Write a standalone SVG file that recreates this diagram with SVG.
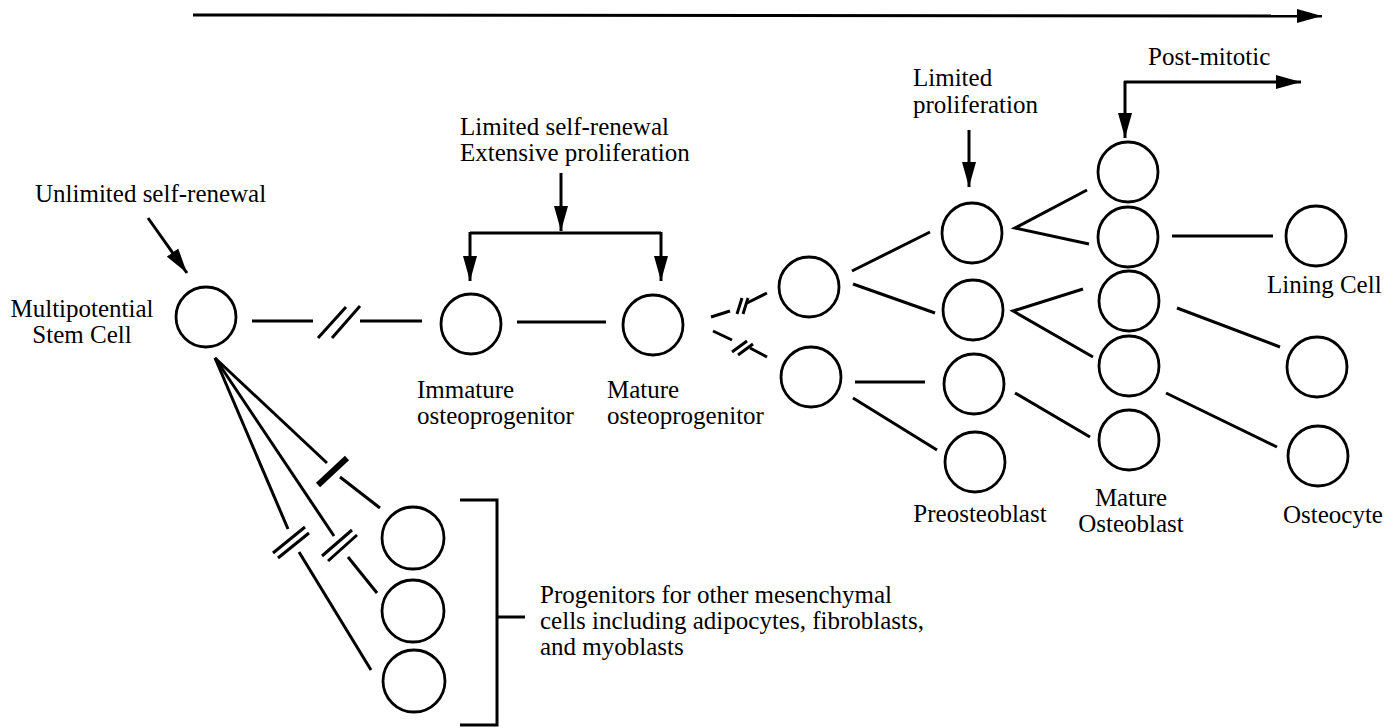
<svg xmlns="http://www.w3.org/2000/svg" width="1397" height="728" viewBox="0 0 1397 728">
<style>
  .cell { fill: #fff; stroke: #000; stroke-width: 2.8; }
  .ln { fill: none; stroke: #000; stroke-width: 3; stroke-linecap: butt; }
  .thick { fill: none; stroke: #000; stroke-width: 6; }
  .arr { fill: none; stroke: #000; stroke-width: 3; marker-end: url(#ah); }
  text { font-family: "Liberation Serif", "Times New Roman", serif; font-size: 25px; fill: #000; }
  .mid { text-anchor: middle; }
</style>
<defs>
  <marker id="ah" markerUnits="userSpaceOnUse" markerWidth="26" markerHeight="14" refX="25" refY="7" orient="auto">
    <path d="M0,0 L25,7 L0,14 z" fill="#000"/>
  </marker>
</defs>
<rect width="1397" height="728" fill="#fff"/>

<g id="connectors">
  <!-- top time arrow -->
  <line class="arr" x1="193" y1="15" x2="1322" y2="16"/>
  <!-- unlimited self-renewal arrow -->
  <line class="arr" x1="148" y1="218" x2="187" y2="273"/>
  <!-- limited self-renewal / extensive proliferation -->
  <line class="arr" x1="561" y1="173" x2="561" y2="231"/>
  <path class="ln" d="M470,233 H661"/>
  <line class="arr" x1="470" y1="232" x2="470" y2="281"/>
  <line class="arr" x1="661" y1="232" x2="661" y2="281"/>
  <!-- limited proliferation -->
  <line class="arr" x1="969" y1="130" x2="969" y2="187"/>
  <!-- post-mitotic -->
  <line class="arr" x1="1125" y1="81" x2="1125" y2="138"/>
  <line class="arr" x1="1124" y1="82" x2="1301" y2="82"/>

  <!-- stem to immature with break -->
  <line class="ln" x1="252" y1="321" x2="313" y2="321"/>
  <line class="ln" x1="318" y1="338" x2="346" y2="307"/>
  <line class="ln" x1="332" y1="338" x2="360" y2="306"/>
  <line class="ln" x1="360" y1="321" x2="422" y2="321"/>
  <!-- immature to mature -->
  <line class="ln" x1="517" y1="322" x2="606" y2="322"/>
  <!-- mature to upper/lower with breaks -->
  <line class="ln" x1="711" y1="317" x2="730" y2="311"/>
  <line class="ln" x1="737" y1="314" x2="742" y2="298"/>
  <line class="ln" x1="743" y1="314" x2="748" y2="298"/>
  <line class="ln" x1="747" y1="303" x2="767" y2="293"/>
  <line class="ln" x1="713" y1="331" x2="732" y2="340"/>
  <line class="ln" x1="732" y1="352" x2="747" y2="341"/>
  <line class="ln" x1="738" y1="355" x2="753" y2="344"/>
  <line class="ln" x1="750" y1="348" x2="767" y2="357"/>
  <!-- to preosteoblasts -->
  <line class="ln" x1="852" y1="271" x2="930" y2="232"/>
  <line class="ln" x1="853" y1="284" x2="935" y2="313"/>
  <line class="ln" x1="855" y1="382" x2="925" y2="382"/>
  <line class="ln" x1="853" y1="398" x2="937" y2="450"/>
  <!-- preosteoblast to mature osteoblast -->
  <polyline class="ln" points="1087,190 1015,228 1089,244"/>
  <polyline class="ln" points="1083,289 1013,311 1093,357"/>
  <line class="ln" x1="1015" y1="393" x2="1090" y2="437"/>
  <!-- mature osteoblast to lining / osteocyte -->
  <line class="ln" x1="1172" y1="236" x2="1273" y2="236"/>
  <line class="ln" x1="1177" y1="308" x2="1280" y2="347"/>
  <line class="ln" x1="1166" y1="393" x2="1277" y2="447"/>

  <!-- fan to other progenitors -->
  <line class="ln" x1="215" y1="358" x2="327" y2="463"/>
  <line class="thick" x1="318" y1="485" x2="347" y2="458"/>
  <line class="ln" x1="340" y1="477" x2="380" y2="508"/>
  <line class="ln" x1="215" y1="358" x2="334" y2="536"/>
  <line class="ln" x1="322" y1="556" x2="352" y2="530"/>
  <line class="ln" x1="328" y1="561" x2="357" y2="535"/>
  <line class="ln" x1="348" y1="557" x2="377" y2="593"/>
  <line class="ln" x1="215" y1="358" x2="288" y2="529"/>
  <line class="ln" x1="273" y1="553" x2="305" y2="527"/>
  <line class="ln" x1="278" y1="558" x2="309" y2="533"/>
  <line class="ln" x1="299" y1="552" x2="371" y2="670"/>
  <!-- bracket -->
  <path class="ln" d="M460,500 H497 V725 H460"/>
  <line class="ln" x1="497" y1="617" x2="525" y2="617"/>
</g>

<g id="stem-cell">
  <circle class="cell" cx="206" cy="317" r="30"/>
  <text x="82" y="317" class="mid">Multipotential</text>
  <text x="82" y="343" class="mid">Stem Cell</text>
</g>
<g id="label-unlimited">
  <text x="35" y="202">Unlimited self-renewal</text>
</g>
<g id="label-limited-self-renewal">
  <text x="460" y="135">Limited self-renewal</text>
  <text x="460" y="161">Extensive proliferation</text>
</g>
<g id="immature-osteoprogenitor">
  <circle class="cell" cx="471" cy="324" r="30"/>
  <text x="417" y="398">Immature</text>
  <text x="417" y="424">osteoprogenitor</text>
</g>
<g id="mature-osteoprogenitor">
  <circle class="cell" cx="653" cy="325" r="30"/>
  <text x="607" y="398">Mature</text>
  <text x="607" y="424">osteoprogenitor</text>
</g>
<g id="intermediate-1"><circle class="cell" cx="809" cy="287" r="30"/></g>
<g id="intermediate-2"><circle class="cell" cx="811" cy="377" r="30"/></g>
<g id="label-limited-proliferation">
  <text x="913" y="86">Limited</text>
  <text x="913" y="113">proliferation</text>
</g>
<g id="preosteoblast">
  <circle class="cell" cx="972" cy="233" r="30"/>
  <circle class="cell" cx="973" cy="310" r="30"/>
  <circle class="cell" cx="974" cy="384" r="30"/>
  <circle class="cell" cx="975" cy="462" r="30"/>
  <text x="980" y="522" class="mid">Preosteoblast</text>
</g>
<g id="label-post-mitotic">
  <text x="1148" y="65">Post-mitotic</text>
</g>
<g id="mature-osteoblast">
  <circle class="cell" cx="1128" cy="172" r="30"/>
  <circle class="cell" cx="1128" cy="237" r="30"/>
  <circle class="cell" cx="1129" cy="301" r="30"/>
  <circle class="cell" cx="1129" cy="366" r="30"/>
  <circle class="cell" cx="1129" cy="440" r="30"/>
  <text x="1131" y="506" class="mid">Mature</text>
  <text x="1131" y="532" class="mid">Osteoblast</text>
</g>
<g id="lining-cell">
  <circle class="cell" cx="1316" cy="236" r="30"/>
  <text x="1267" y="293">Lining Cell</text>
</g>
<g id="osteocyte-1"><circle class="cell" cx="1317" cy="367" r="30"/></g>
<g id="osteocyte-2">
  <circle class="cell" cx="1318" cy="456" r="30"/>
  <text x="1283" y="523">Osteocyte</text>
</g>
<g id="other-progenitors">
  <circle class="cell" cx="413" cy="538" r="31"/>
  <circle class="cell" cx="413" cy="611" r="31"/>
  <circle class="cell" cx="414" cy="681" r="31"/>
  <text x="540" y="603">Progenitors for other mesenchymal</text>
  <text x="540" y="629">cells including adipocytes, fibroblasts,</text>
  <text x="540" y="655">and myoblasts</text>
</g>
</svg>
